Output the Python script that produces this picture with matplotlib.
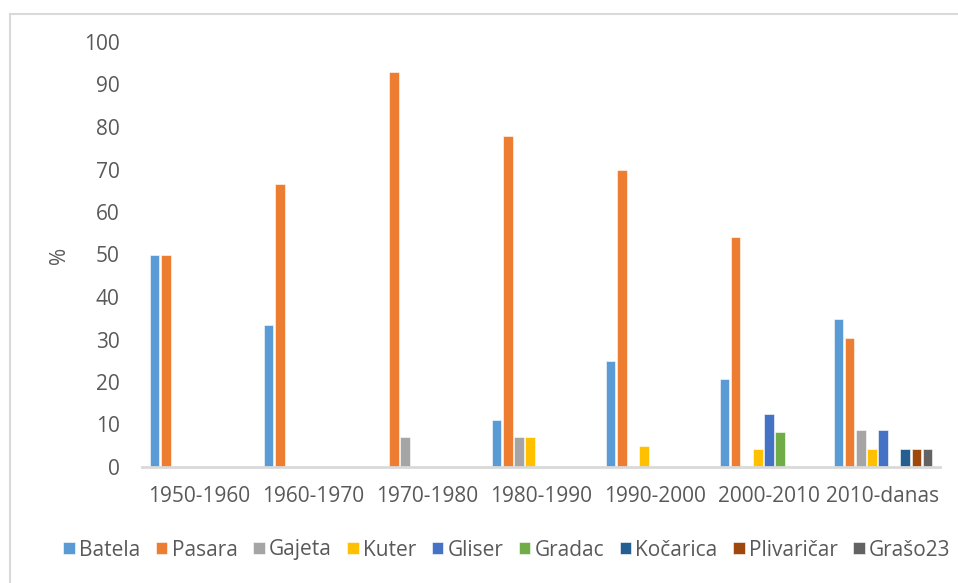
import numpy as np
import matplotlib.pyplot as plt
from matplotlib.lines import Line2D

plt.rcParams['font.family'] = ['Open Sans', 'DejaVu Sans']

# Data (percent share per period)
periods = ['1950-1960', '1960-1970', '1970-1980', '1980-1990',
           '1990-2000', '2000-2010', '2010-danas']
names = ['Batela', 'Pasara', 'Gajeta', 'Kuter', 'Gliser', 'Gradac',
         'Kočarica', 'Plivaričar', 'Grašo23']
batela = [50, 33.3, 0, 11.1, 25, 20.8, 34.8]
pasara = [50, 66.7, 92.9, 77.8, 70, 54.2, 30.4]
gajeta = [0, 0, 7.1, 7.1, 0, 0, 8.7]
kuter = [0, 0, 0, 7.1, 5, 4.2, 4.3]
gliser = [0, 0, 0, 0, 0, 12.5, 8.7]
gradac = [0, 0, 0, 0, 0, 8.3, 0]
kocarica = [0, 0, 0, 0, 0, 0, 4.3]
plivaricar = [0, 0, 0, 0, 0, 0, 4.3]
graso23 = [0, 0, 0, 0, 0, 0, 4.3]
series = [batela, pasara, gajeta, kuter, gliser, gradac,
          kocarica, plivaricar, graso23]

colors = ['#5B9BD5', '#ED7D31', '#A5A5A5', '#FFC000', '#4472C4',
          '#70AD47', '#255E91', '#9E480E', '#636363']
text_col = '#595959'

fig = plt.figure(figsize=(9.58, 5.83), dpi=100)
ax = fig.add_axes([142/958, 116/583, 798/958, 425/583])

x = np.arange(len(periods))
step = 0.0965
width = 0.079
for i, (vals, name, c) in enumerate(zip(series, names, colors)):
    ax.bar(x + (i - 4) * step, vals, width, color=c, label=name,
           edgecolor='white', linewidth=0.4)

ax.set_xlim(-0.5, len(periods) - 0.5)
ax.set_ylim(0, 100)
ax.set_yticks(range(0, 101, 10))
ax.set_xticks(x)
ax.set_xticklabels(periods)
ax.tick_params(axis='both', length=0, labelsize=15, colors=text_col)
ax.tick_params(axis='x', pad=14)
ax.tick_params(axis='y', pad=16)
for s in ['top', 'right', 'left']:
    ax.spines[s].set_visible(False)
ax.spines['bottom'].set_color('#D9D9D9')
ax.spines['bottom'].set_linewidth(2)

fig.text(60/958, 1 - 255/583, '%', rotation=90, ha='center', va='center',
         fontsize=15, color=text_col)

leg = fig.legend(loc='center', bbox_to_anchor=(507/958, 1 - 550/583),
                 ncol=9, frameon=False, fontsize=15, handlelength=0.55,
                 handleheight=0.55, handletextpad=0.2, columnspacing=0.75)
for t in leg.get_texts():
    t.set_color(text_col)

# chart area border (only top/left visible in the crop)
fig.add_artist(Line2D([10/958, 10/958], [0, 1 - 14/583],
                      transform=fig.transFigure, color='#D9D9D9', lw=1.5))
fig.add_artist(Line2D([10/958, 1], [1 - 14/583, 1 - 14/583],
                      transform=fig.transFigure, color='#D9D9D9', lw=1.5))

fig.savefig('out.png', dpi=100)
